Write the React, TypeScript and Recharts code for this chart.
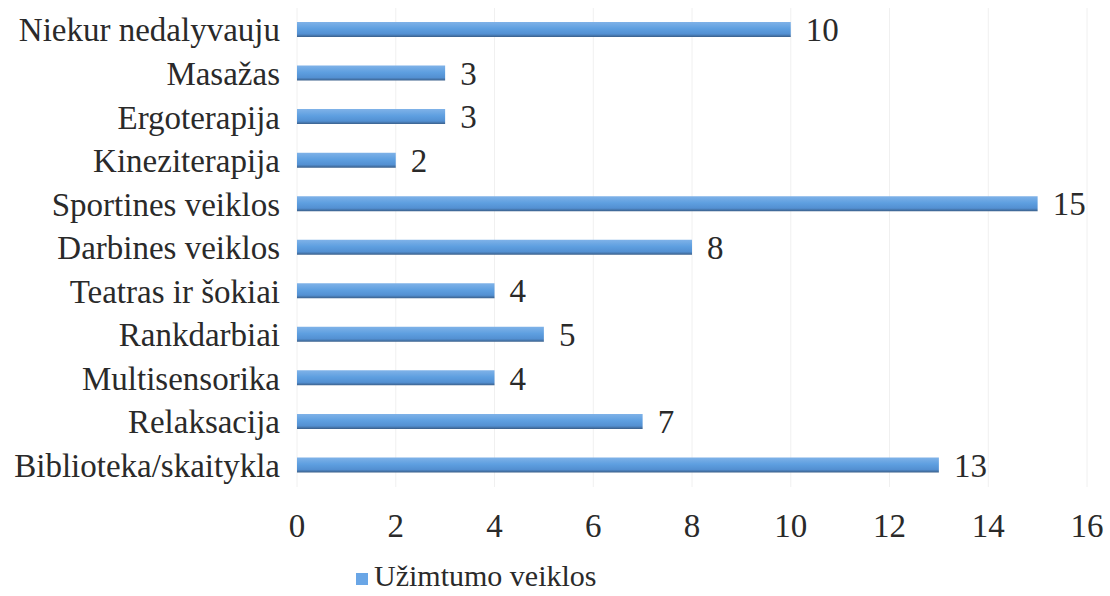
import React from 'react';
import { BarChart, Bar, XAxis, YAxis, CartesianGrid, LabelList, Legend } from 'recharts';

const categories = [
  'Niekur nedalyvauju',
  'Masažas',
  'Ergoterapija',
  'Kineziterapija',
  'Sportines veiklos',
  'Darbines veiklos',
  'Teatras ir šokiai',
  'Rankdarbiai',
  'Multisensorika',
  'Relaksacija',
  'Biblioteka/skaitykla',
];
const values = [10, 3, 3, 2, 15, 8, 4, 5, 4, 7, 13];
const xTicks = [0, 2, 4, 6, 8, 10, 12, 14, 16];
const seriesName = 'Užimtumo veiklos';

const data = categories.map((c, i) => ({ name: c, value: values[i] }));

const FONT = '"Liberation Serif", "Times New Roman", serif';
const TEXT = '#2a2a2a';
const FS = 33;

const LegendContent = () => (
  <div style={{ display: 'flex', alignItems: 'center', height: 40, paddingLeft: 356, fontFamily: FONT, fontSize: 30, color: TEXT }}>
    <span style={{ display: 'inline-block', width: 12, height: 12, background: '#6aa6e6', marginRight: 6, marginTop: 6 }} />
    <span>{seriesName}</span>
  </div>
);

export default function App() {
  return (
    <div style={{ position: 'absolute', left: 0, top: 0, background: '#fff', fontFamily: FONT }}>
      <BarChart
        width={1110}
        height={596}
        data={data}
        layout="vertical"
        margin={{ top: 8, right: 23, bottom: 0, left: 0 }}
        barCategoryGap={0}
      >
        <defs>
          <linearGradient id="barGrad" x1="0" y1="0" x2="0" y2="1">
            <stop offset="0%" stopColor="#7fb2e8" />
            <stop offset="45%" stopColor="#5e9fe0" />
            <stop offset="80%" stopColor="#5390d2" />
            <stop offset="100%" stopColor="#3a5f8a" />
          </linearGradient>
        </defs>
        <CartesianGrid horizontal={false} stroke="#f0f0f0" />
        <XAxis
          type="number"
          domain={[0, 16]}
          ticks={xTicks}
          axisLine={false}
          tickLine={false}
          tickSize={0}
          tickMargin={27}
          height={69}
          tick={{ fontFamily: FONT, fontSize: FS, fill: TEXT }}
        />
        <YAxis
          type="category"
          dataKey="name"
          width={297}
          axisLine={false}
          tickLine={false}
          tickSize={0}
          tickMargin={17}
          tick={{ fontFamily: FONT, fontSize: FS, fill: TEXT }}
        />
        <Legend verticalAlign="bottom" content={<LegendContent />} />
        <Bar dataKey="value" name={seriesName} fill="url(#barGrad)" barSize={15} isAnimationActive={false}>
          <LabelList dataKey="value" position="right" offset={15} style={{ fontFamily: FONT, fontSize: FS, fill: TEXT }} />
        </Bar>
      </BarChart>
    </div>
  );
}
